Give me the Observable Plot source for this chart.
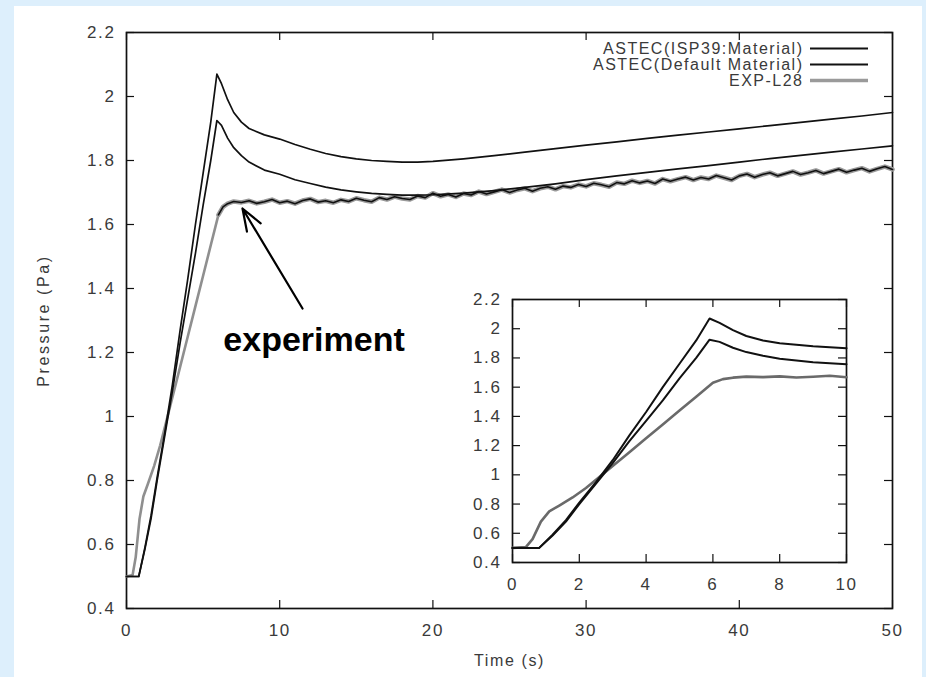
<!DOCTYPE html>
<html><head><meta charset="utf-8">
<script src="https://cdn.jsdelivr.net/npm/d3@7"></script>
<script src="https://cdn.jsdelivr.net/npm/@observablehq/plot@0.6"></script>
<style>
html,body{margin:0;padding:0;background:#ddeffc;}
#wrap{position:relative;width:926px;height:677px;overflow:hidden;}
#panel{position:absolute;left:14px;top:6px;width:908px;height:671px;background:#fff;}
#main,#inset{position:absolute;}
#main{left:0;top:0;}
#inset{left:440px;top:280px;}
.lbl, .lbl text{letter-spacing:1.6px;}
.leg, .leg text{letter-spacing:1.5px;}
.axl, .axl text{letter-spacing:1.6px;}
.ayl, .ayl text{letter-spacing:2.6px;}
</style></head>
<body><div id="wrap"><div id="panel"></div><div id="main"></div><div id="inset"></div></div>
<script>
// ---- data ----
const seriesNames = ["ASTEC(ISP39:Material)", "ASTEC(Default Material)", "EXP-L28"];

const isp39Time = [0,0.8,1.2,1.6,2,2.5,3,3.5,4,4.5,5,5.5,5.9,6.2,6.6,7,7.5,8,9,10,11,12,13,14,15,16,17,18,19,20,22,24,26,28,30,32,34,36,38,40,42,44,46,48,50];
const isp39Pressure = [0.5,0.5,0.59,0.69,0.81,0.95,1.10,1.27,1.43,1.60,1.76,1.92,2.07,2.04,1.99,1.95,1.92,1.90,1.88,1.867,1.85,1.835,1.822,1.812,1.805,1.80,1.797,1.795,1.795,1.797,1.805,1.815,1.826,1.837,1.848,1.858,1.869,1.879,1.889,1.899,1.909,1.919,1.929,1.939,1.950];

const defaultTime = [0,0.8,1.2,1.6,2,2.5,3,3.5,4,4.5,5,5.5,5.9,6.2,6.6,7,7.5,8,9,10,11,12,13,14,15,16,17,18,19,20,22,24,26,28,30,32,34,36,38,40,42,44,46,48,50];
const defaultPressure = [0.5,0.5,0.585,0.68,0.80,0.94,1.08,1.23,1.37,1.51,1.66,1.80,1.925,1.91,1.87,1.84,1.815,1.795,1.77,1.757,1.74,1.728,1.717,1.708,1.702,1.697,1.694,1.692,1.692,1.693,1.698,1.706,1.716,1.727,1.74,1.752,1.763,1.774,1.784,1.795,1.806,1.816,1.826,1.836,1.846];

const expTime = [0,0.4,0.6,0.85,1.1,1.4,1.8,2.2,2.6,3,3.5,4,4.5,5,5.5,6,6.3,6.6,7,
 7.5,8,8.5,9,9.5,10,10.5,11,11.5,12,12.5,13,13.5,14,14.5,15,15.5,16,16.5,17,17.5,18,18.5,19,19.5,20,
 20.5,21,21.5,22,22.5,23,23.5,24,24.5,25,25.5,26,26.5,27,27.5,28,28.5,29,29.5,30,30.5,31,31.5,32,32.5,33,33.5,34,34.5,35,
 35.5,36,36.5,37,37.5,38,38.5,39,39.5,40,40.5,41,41.5,42,42.5,43,43.5,44,44.5,45,45.5,46,46.5,47,47.5,48,48.5,49,49.5,50];
const expPressure = [0.5,0.505,0.56,0.68,0.75,0.79,0.845,0.91,0.985,1.06,1.155,1.25,1.345,1.44,1.535,1.63,1.655,1.665,1.672,
 1.669,1.674,1.666,1.671,1.678,1.668,1.673,1.665,1.675,1.680,1.670,1.674,1.668,1.677,1.672,1.682,1.676,1.671,1.684,1.678,1.687,1.681,1.678,1.689,1.684,1.698,
 1.688,1.694,1.686,1.697,1.692,1.703,1.695,1.702,1.709,1.700,1.708,1.713,1.704,1.713,1.718,1.710,1.720,1.716,1.725,1.719,1.729,1.724,1.718,1.731,1.727,1.737,1.730,1.736,1.728,1.742,
 1.735,1.742,1.748,1.739,1.747,1.742,1.753,1.746,1.739,1.752,1.758,1.748,1.756,1.762,1.752,1.759,1.766,1.756,1.762,1.769,1.759,1.766,1.773,1.763,1.770,1.776,1.766,1.774,1.781,1.772];

const mainXTicks = [0,10,20,30,40,50];
const mainYTicks = [0.4,0.6,0.8,1,1.2,1.4,1.6,1.8,2,2.2];
const mainYLabels = ["0.4","0.6","0.8","1","1.2","1.4","1.6","1.8","2","2.2"];
const insetXTicks = [0,2,4,6,8,10];
const insetYTicks = [0.4,0.6,0.8,1,1.2,1.4,1.6,1.8,2,2.2];
const insetYLabels = ["0.4","0.6","0.8","1","1.2","1.4","1.6","1.8","2","2.2"];

const annotationText = ["experiment"];
const annotationTime = [12.24];
const annotationPressure = [1.24];
const arrowFromTime = [11.49], arrowFromPressure = [1.3375];
const arrowToTime = [7.57], arrowToPressure = [1.65];

// ---- build rows ----
const isp39 = isp39Time.map((t,i)=>({t, p: isp39Pressure[i]}));
const deflt = defaultTime.map((t,i)=>({t, p: defaultPressure[i]}));
const exp = expTime.map((t,i)=>({t, p: expPressure[i]}));
const arrows = arrowFromTime.map((t,i)=>({x1:t, y1:arrowFromPressure[i], x2:arrowToTime[i], y2:arrowToPressure[i]}));
const notes = annotationText.map((s,i)=>({s, t: annotationTime[i], p: annotationPressure[i]}));

const FONT = "'Liberation Sans', Arial, Helvetica, sans-serif";
const INK = "#111";
const TXT = "#3a3a3a";
const TICK = 8;

// frame + inward mirrored ticks + labels; W,H = frame size in px
function frameAxes(xt, yt, ylab, W, H) {
  return [
    Plot.ruleX(xt, {x: d => d, insetTop: H - TICK, stroke: INK, strokeWidth: 1.2}),
    Plot.ruleX(xt, {x: d => d, insetBottom: H - TICK, stroke: INK, strokeWidth: 1.2}),
    Plot.ruleY(yt, {y: d => d, insetRight: W - TICK, stroke: INK, strokeWidth: 1.2}),
    Plot.ruleY(yt, {y: d => d, insetLeft: W - TICK, stroke: INK, strokeWidth: 1.2}),
    Plot.frame({stroke: INK, strokeWidth: 1.7}),
    Plot.axisX(xt, {anchor: "bottom", label: null, tickSize: 0, tickPadding: 15, fill: TXT, fontSize: 17, className: "lbl", tickFormat: d => String(d)}),
    Plot.axisY(yt, {anchor: "left", label: null, tickSize: 0, tickPadding: 11, fill: TXT, fontSize: 17, className: "lbl", tickFormat: (d, i) => ylab[i]})
  ];
}

const legendStroke = [INK, INK, "#9a9a9a"];
const legendWidth = [1.8, 1.8, 3.5];
const legendMarks = seriesNames.flatMap((name, i) => [
  Plot.text([name], {frameAnchor: "top-right", lineAnchor: "middle", dx: -89, dy: 16 + 16*i, textAnchor: "end", fill: TXT, fontSize: 16, className: "leg"}),
  Plot.ruleY([2.2], {insetLeft: 684, insetRight: 24, dy: 16 + 16*i, stroke: legendStroke[i], strokeWidth: legendWidth[i]})
]);

const main = Plot.plot({
  width: 926, height: 677,
  marginLeft: 126, marginRight: 34, marginTop: 32, marginBottom: 69,
  style: {background: "transparent", fontFamily: FONT, color: TXT, overflow: "visible"},
  x: {domain: [0, 50]},
  y: {domain: [0.4, 2.2]},
  marks: [
    ...frameAxes(mainXTicks, mainYTicks, mainYLabels, 766, 576),
    Plot.text(["Time (s)"], {frameAnchor: "bottom", lineAnchor: "middle", dy: 52, fill: TXT, fontSize: 16, className: "axl"}),
    Plot.text(["Pressure (Pa)"], {frameAnchor: "left", textAnchor: "middle", lineAnchor: "middle", dx: -83, rotate: -90, fill: TXT, fontSize: 16, className: "ayl"}),
    Plot.line(exp, {filter: d => d.t <= 6.3, x: "t", y: "p", stroke: "#8f8f8f", strokeWidth: 2.6}),
    Plot.line(exp, {filter: d => d.t >= 6, x: "t", y: "p", stroke: "#9a9a9a", strokeWidth: 4.5}),
    Plot.line(exp, {filter: d => d.t >= 6, x: "t", y: "p", stroke: INK, strokeWidth: 1.6}),
    Plot.line(deflt, {x: "t", y: "p", stroke: INK, strokeWidth: 1.7}),
    Plot.line(isp39, {x: "t", y: "p", stroke: INK, strokeWidth: 1.7}),
    ...legendMarks,
    Plot.arrow(arrows, {x1: "x1", y1: "y1", x2: "x2", y2: "y2", stroke: "#000", strokeWidth: 2.2, headLength: 16, headAngle: 40}),
    Plot.text(notes, {x: "t", y: "p", text: "s", fontSize: 34, fontWeight: "bold", fill: "#000"})
  ]
});
document.getElementById("main").appendChild(main);

const inset = Plot.plot({
  width: 420, height: 340,
  marginLeft: 72, marginRight: 14, marginTop: 19, marginBottom: 58,
  style: {background: "transparent", fontFamily: FONT, color: TXT, overflow: "visible"},
  x: {domain: [0, 10]},
  y: {domain: [0.4, 2.2]},
  marks: [
    ...frameAxes(insetXTicks, insetYTicks, insetYLabels, 334, 263),
    Plot.line(exp, {filter: d => d.t <= 10, x: "t", y: "p", stroke: "#6a6a6a", strokeWidth: 2.6}),
    Plot.line(deflt, {filter: d => d.t <= 10, x: "t", y: "p", stroke: INK, strokeWidth: 2}),
    Plot.line(isp39, {filter: d => d.t <= 10, x: "t", y: "p", stroke: INK, strokeWidth: 2})
  ]
});
document.getElementById("inset").appendChild(inset);
</script>
</body></html>
